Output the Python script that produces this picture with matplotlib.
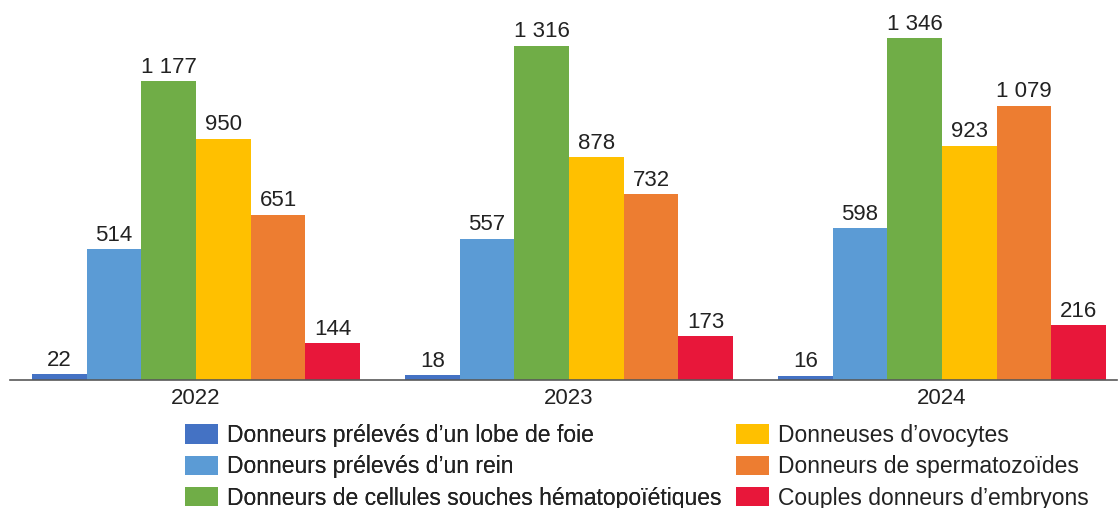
import matplotlib.pyplot as plt
import numpy as np

plt.rcParams['font.family'] = ['Liberation Sans', 'DejaVu Sans']

# Data
years = ["2022", "2023", "2024"]
series = [
    "Donneurs prélevés d\u2019un lobe de foie",
    "Donneurs prélevés d\u2019un rein",
    "Donneurs de cellules souches hématopoïétiques",
    "Donneuses d\u2019ovocytes",
    "Donneurs de spermatozoïdes",
    "Couples donneurs d\u2019embryons",
]
foie = [22, 18, 16]
rein = [514, 557, 598]
csh = [1177, 1316, 1346]
ovocytes = [950, 878, 923]
sperma = [651, 732, 1079]
embryons = [144, 173, 216]
values = [foie, rein, csh, ovocytes, sperma, embryons]
colors = ["#4472C4", "#5B9BD5", "#70AD47", "#FFC000", "#ED7D31", "#E8173A"]

text_color = "#222222"
fs_val = 16
fs_leg = 16.5

fig = plt.figure(figsize=(11.18, 5.08), dpi=100)
ax = fig.add_axes([10 / 1118, 128 / 508, 1107 / 1118, 380 / 508])

x = np.arange(len(years))
w = 0.1466
handles = []
for i, (name, vals) in enumerate(zip(series, values)):
    pos = x + (i - 2.5) * w
    bars = ax.bar(pos, vals, width=w, color=colors[i], label=name)
    handles.append(bars)
    for b, v in zip(bars, vals):
        lab = f"{v:,}".replace(",", " ")
        ax.annotate(lab, (b.get_x() + b.get_width() / 2, v), xytext=(0, 2.5),
                    textcoords="offset points", ha="center", va="bottom",
                    fontsize=fs_val, color=text_color)

ax.set_xlim(-0.499, 2.469)
ax.set_ylim(0, 1496)
ax.set_xticks(x)
ax.set_xticklabels(years, fontsize=fs_val, color=text_color)
ax.tick_params(axis="x", length=0, pad=6)
ax.set_yticks([])
for s in ["top", "right", "left"]:
    ax.spines[s].set_visible(False)
ax.spines["bottom"].set_color("#595959")
ax.spines["bottom"].set_linewidth(1.2)

# legend in two columns placed separately
leg_kw = dict(loc="upper left", fontsize=fs_leg, frameon=False, handlelength=1.44,
              handleheight=0.92, labelspacing=0.36, handletextpad=0.38,
              borderaxespad=0, borderpad=0, labelcolor=text_color)
leg1 = fig.legend(handles[:3], series[:3], bbox_to_anchor=(185 / 1118, 1 - 424 / 508), **leg_kw)
fig.add_artist(leg1)
leg2 = fig.legend(handles[3:], series[3:], bbox_to_anchor=(736 / 1118, 1 - 424 / 508), **leg_kw)

fig.savefig("out.png", dpi=100)
